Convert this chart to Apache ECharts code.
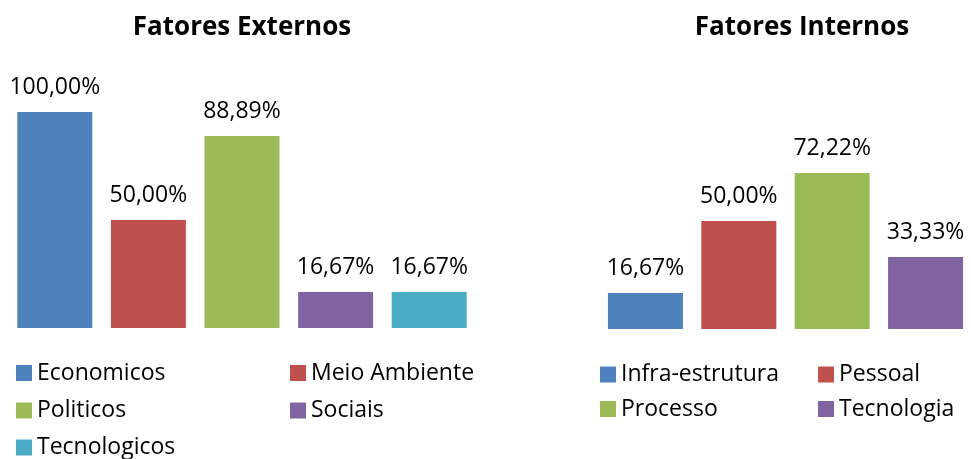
<!DOCTYPE html>
<html>
<head>
<meta charset="utf-8">
<script src="https://cdn.jsdelivr.net/npm/echarts@6/dist/echarts.min.js"></script>
<style>
  html, body { margin: 0; padding: 0; background: #fff; }
  #chart { width: 971px; height: 459px; }
</style>
</head>
<body>
<div id="chart"></div>
<script>
// dados dos dois gráficos
const externosNomes = ['Economicos', 'Meio Ambiente', 'Politicos', 'Sociais', 'Tecnologicos']
const externosValores = [100, 50, 88.89, 16.67, 16.67]
const externosCores = ['#4F81BD', '#C0504D', '#9BBB59', '#8064A2', '#4BACC6']

const internosNomes = ['Infra-estrutura', 'Pessoal', 'Processo', 'Tecnologia']
const internosValores = [16.67, 50, 72.22, 33.33]
const internosCores = ['#4F81BD', '#C0504D', '#9BBB59', '#8064A2']

const FONT = '"Open Sans"'

const chart = echarts.init(document.getElementById('chart'))

const fmt = (p) => p.value.toFixed(2).replace('.', ',') + '%'

const makeSeries = (nomes, valores, cores, idx, gap) =>
  nomes.map((nome, i) => ({
    name: nome,
    type: 'bar',
    xAxisIndex: idx,
    yAxisIndex: idx,
    data: [valores[i]],
    barWidth: 75,
    barGap: gap,
    itemStyle: { color: cores[i] },
    label: {
      show: true,
      position: 'top',
      distance: 13,
      formatter: fmt,
      fontFamily: FONT,
      fontSize: 23,
      color: '#000'
    }
  }))

const legendText = { fontFamily: FONT, fontSize: 23, lineHeight: 23, color: '#000' }

// uma legenda por item, para posicionar como no Excel (2 colunas)
const legendItem = (name, left, top) => ({
  data: [name],
  left: left,
  top: top,
  padding: 0,
  itemWidth: 16,
  itemHeight: 16,
  icon: 'rect',
  selectedMode: false,
  textStyle: legendText
})

const option = {
  animation: false,
  title: [
    {
      text: 'Fatores Externos',
      left: 242,
      top: 15,
      textAlign: 'center',
      padding: 0,
      textStyle: { fontFamily: FONT, fontSize: 26, fontWeight: 'bold', color: '#000' }
    },
    {
      text: 'Fatores Internos',
      left: 802,
      top: 15,
      textAlign: 'center',
      padding: 0,
      textStyle: { fontFamily: FONT, fontSize: 26, fontWeight: 'bold', color: '#000' }
    }
  ],
  legend: [
    legendItem('Economicos', 16, 361.5),
    legendItem('Meio Ambiente', 290, 361.5),
    legendItem('Politicos', 16, 399),
    legendItem('Sociais', 290, 399),
    legendItem('Tecnologicos', 16, 436),
    legendItem('Infra-estrutura', 600, 363),
    legendItem('Pessoal', 818, 363),
    legendItem('Processo', 600, 397.5),
    legendItem('Tecnologia', 818, 397.5)
  ],
  grid: [
    { left: 0, top: 112, width: 484, height: 216 },
    { left: 600, top: 113, width: 373, height: 216 }
  ],
  xAxis: [
    { type: 'category', gridIndex: 0, data: [''], show: false },
    { type: 'category', gridIndex: 1, data: [''], show: false }
  ],
  yAxis: [
    { type: 'value', gridIndex: 0, min: 0, max: 100, show: false },
    { type: 'value', gridIndex: 1, min: 0, max: 100, show: false }
  ],
  series: [
    ...makeSeries(externosNomes, externosValores, externosCores, 0, '24.8%'),
    ...makeSeries(internosNomes, internosValores, internosCores, 1, '24.5%')
  ]
}

chart.setOption(option)
</script>
</body>
</html>
